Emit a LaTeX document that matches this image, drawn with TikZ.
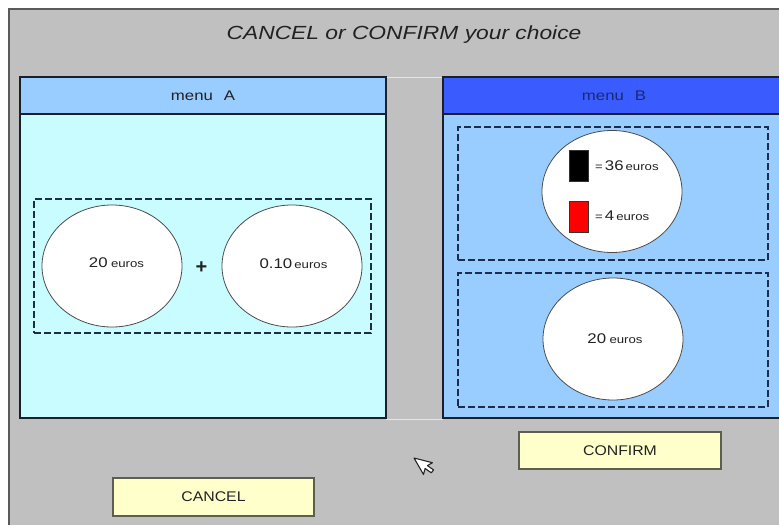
\documentclass[tikz,border=0pt]{standalone}
\usepackage{fontspec}
\setmainfont{Liberation Sans}
\usetikzlibrary{shapes.geometric}
\definecolor{bggray}{HTML}{C0C0C0}
\definecolor{framegray}{HTML}{5A5A5A}
\definecolor{headA}{HTML}{99CCFF}
\definecolor{bodyA}{HTML}{C8FCFF}
\definecolor{headB}{HTML}{3A5CFF}
\definecolor{bodyB}{HTML}{99CCFF}
\definecolor{panelline}{HTML}{1A1F2E}
\definecolor{dashline}{HTML}{1C2D4C}
\definecolor{btnfill}{HTML}{FFFFCC}
\definecolor{btnline}{HTML}{5E5E50}
\definecolor{txt}{HTML}{222222}
\definecolor{navytxt}{HTML}{1A2A70}
\newcommand{\wideTxt}[2][1.2]{\scalebox{#1}[1]{#2}}
\newcommand{\numTxt}[1]{{\fontsize{14}{16}\selectfont #1}}
\newcommand{\unitTxt}[1]{{\fontsize{11}{13}\selectfont #1}}
\begin{document}
\begin{tikzpicture}[x=1pt,y=-1pt,
  panel/.style={rectangle, draw=panelline, line width=1.8pt, inner sep=0pt},
  dbox/.style={rectangle, draw=dashline, line width=1.6pt, dash pattern=on 7pt off 3pt, inner sep=0pt},
  coin/.style={ellipse, draw=black!70, line width=0.8pt, fill=white, minimum width=140pt, minimum height=122pt, inner sep=0pt},
  btn/.style={rectangle, draw=btnline, line width=1.5pt, fill=btnfill, inner sep=0pt, text=txt, font=\fontsize{14}{16}\selectfont},
  lbl/.style={text=txt, inner sep=0pt},
  swatch/.style={rectangle, draw=black!80, line width=0.5pt, minimum width=19pt, minimum height=31pt, inner sep=0pt}
]
\useasboundingbox (0,0) rectangle (779,525);
\clip (0,0) rectangle (779,525);
\fill[white] (0,0) rectangle (779,525);
\fill[bggray] (9,9) rectangle (779,525);
\draw[framegray, line width=2pt] (9,525) -- (9,9) -- (779,9);
% faint separators between panels
\draw[white!60!bggray, line width=1pt] (386,77) -- (443,77);
\draw[white!60!bggray, line width=1pt] (386,419) -- (443,419);

% title
\node[lbl, font=\fontsize{19}{22}\selectfont\itshape] (title) at (404,35) {\wideTxt{CANCEL or CONFIRM your choice}};

% menu A
\node[panel, fill=bodyA, minimum width=366pt, minimum height=304pt] (bodyA) at (203,266) {};
\node[panel, fill=headA, minimum width=366pt, minimum height=37pt, text=txt, font=\fontsize{14}{16}\selectfont] (headA) at (203,95.5) {\wideTxt{menu\hspace{9pt}A}};

% menu B
\node[panel, fill=bodyB, minimum width=342pt, minimum height=304pt] (bodyB) at (614,266) {};
\node[panel, fill=headB, minimum width=342pt, minimum height=37pt, text=navytxt, font=\fontsize{14}{16}\selectfont] (headB) at (614,95.5) {\wideTxt{menu\hspace{9pt}B}};

% menu A content
\node[dbox, minimum width=337pt, minimum height=134pt] (dA) at (202.5,266) {};
\node[coin] (c1) at (112,266) {};
\node[lbl] (t1) at (116.5,263) {\wideTxt{\numTxt{20}\ \unitTxt{euros}}};
\node[coin] (c2) at (292,266) {};
\node[lbl] (t2) at (293.5,264) {\wideTxt{\numTxt{0.10}\,\unitTxt{euros}}};
\node[lbl, font=\fontsize{20}{22}\selectfont\bfseries] (plus) at (201.5,268) {+};

% menu B content
\node[dbox, minimum width=310pt, minimum height=133pt] (dB1) at (613,193.5) {};
\node[coin] (c3) at (612,191.5) {};
\node[swatch, fill=black] (sw1) at (578.5,165.5) {};
\node[swatch, fill=red] (sw2) at (578.5,216.5) {};
\node[lbl, anchor=west] (t3) at (595,166) {\wideTxt{\unitTxt{=}\,\numTxt{36}\,\unitTxt{euros}}};
\node[lbl, anchor=west] (t4) at (595,216) {\wideTxt{\unitTxt{=}\,\numTxt{4}\,\unitTxt{euros}}};

\node[dbox, minimum width=310pt, minimum height=134pt] (dB2) at (613,340) {};
\node[coin] (c4) at (613,339) {};
\node[lbl] (t5) at (615,339) {\wideTxt{\numTxt{20}\ \unitTxt{euros}}};

% buttons
\node[btn, minimum width=202pt, minimum height=37pt] (confirm) at (620,450.5) {\wideTxt[1.13]{CONFIRM}};
\node[btn, minimum width=201pt, minimum height=38pt] (cancel) at (213.5,497) {\wideTxt[1.13]{CANCEL}};

% cursor
\begin{scope}[shift={(414,458)}, rotate=30]
\filldraw[fill=white, draw=black!85, line width=1.1pt, line join=round]
  (0,0) -- (0,19) -- (4.4,14.6) -- (7.6,21.5) -- (11,20.1) -- (7.8,13.3) -- (13.6,13.3) -- cycle;
\end{scope}
\end{tikzpicture}
\end{document}
